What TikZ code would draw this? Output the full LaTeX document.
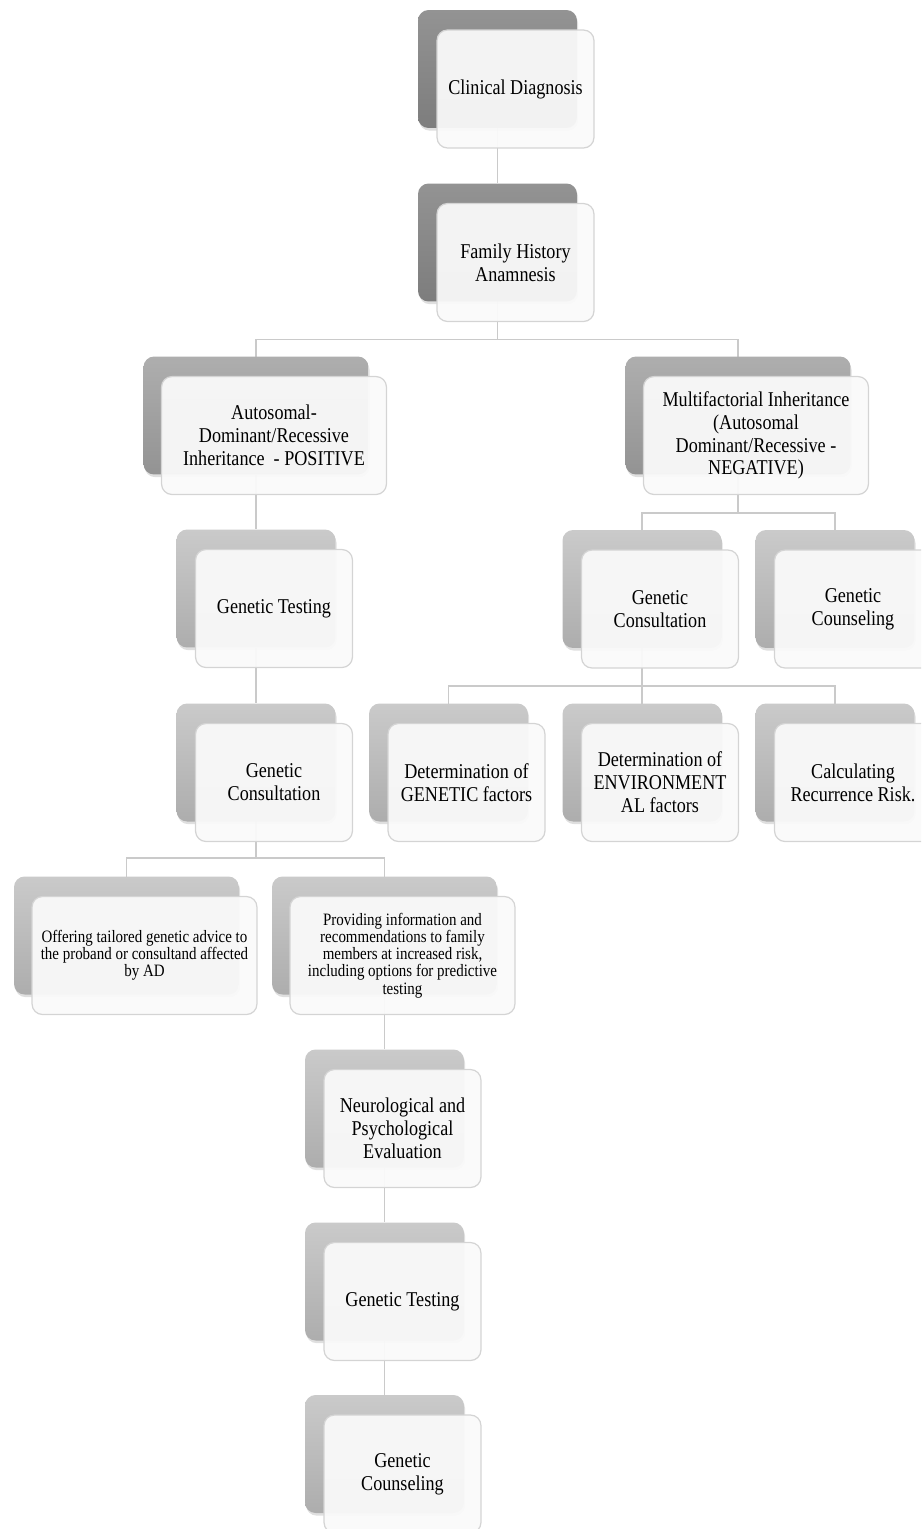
\documentclass[tikz,border=0pt]{standalone}
\usepackage{fontspec}
\setmainfont[FakeStretch=0.86]{Liberation Serif}
\usetikzlibrary{shadows,backgrounds}

\definecolor{shadeAtop}{HTML}{939393}
\definecolor{shadeAbot}{HTML}{7D7D7D}
\definecolor{shadeBtop}{HTML}{AEAEAE}
\definecolor{shadeBbot}{HTML}{939393}
\definecolor{shadeCtop}{HTML}{CACACA}
\definecolor{shadeCbot}{HTML}{ADADAD}
\definecolor{cardline}{HTML}{D4D4D4}
\definecolor{linkgray}{HTML}{CACACA}

\begin{document}
\begin{tikzpicture}[
  x=0.02cm, y=-0.02cm,
  back/.style={rounded corners=6pt, minimum width=3.18cm, minimum height=2.36cm,
               inner sep=0pt, drop shadow={shadow xshift=0.6pt, shadow yshift=-1.5pt, opacity=.25}},
  lvA/.style={back, top color=shadeAtop, bottom color=shadeAbot},
  lvB/.style={back, top color=shadeBtop, bottom color=shadeBbot},
  lvC/.style={back, top color=shadeCtop, bottom color=shadeCbot},
  wide/.style={minimum width=4.5cm},
  card/.style={draw=cardline, line width=0.7pt, rounded corners=6pt, fill=white!98!black,
               fill opacity=.94, text opacity=1, minimum width=3.14cm, minimum height=2.36cm,
               xshift=0.36cm, yshift=-0.4cm, align=center, inner sep=2pt,
               font=\fontsize{12}{13}\selectfont},
  small/.style={font=\fontsize{9.9}{9.8}\selectfont},
  link/.style={draw=linkgray, line width=1.1pt},
]
\clip (0,0) rectangle (921,1529);

% trunk
\node[lvA] (clinB) at (497.5,69) {};
\node[card] (clin) at (clinB) {Clinical Diagnosis};
\node[lvA] (famB) at (497.5,242.5) {};
\node[card] (fam) at (famB) {Family History\\Anamnesis};

% left branch
\node[lvB, wide] (autB) at (256,415.5) {};
\node[card, wide] (aut) at (autB) {Autosomal-\\Dominant/Recessive\\Inheritance \ - POSITIVE};
\node[lvC] (testB) at (256,588.5) {};
\node[card] (test) at (testB) {Genetic Testing};
\node[lvC] (consB) at (256,762.5) {};
\node[card] (cons) at (consB) {Genetic\\Consultation};
\node[lvC, wide] (offB) at (126.5,935.5) {};
\node[card, wide, small] (off) at (offB) {Offering tailored genetic advice to\\the proband or consultand affected\\by AD};
\node[lvC, wide] (provB) at (384.5,935.5) {};
\node[card, wide, small] (prov) at (provB) {Providing information and\\recommendations to family\\members at increased risk,\\including options for predictive\\testing};
\node[lvC] (neuroB) at (384.5,1108.5) {};
\node[card] (neuro) at (neuroB) {Neurological and\\Psychological\\Evaluation};
\node[lvC] (testbB) at (384.5,1281.5) {};
\node[card] (testb) at (testbB) {Genetic Testing};
\node[lvC] (counbB) at (384.5,1454) {};
\node[card] (counb) at (counbB) {Genetic\\Counseling};

% right branch
\node[lvB, wide] (mulB) at (738,415.5) {};
\node[card, wide] (mul) at (mulB) {Multifactorial Inheritance\\(Autosomal\\Dominant/Recessive -\\NEGATIVE)};
\node[lvC] (gconsB) at (642,589) {};
\node[card] (gcons) at (gconsB) {Genetic\\Consultation};
\node[lvC] (gcounB) at (835,589) {};
\node[card] (gcoun) at (gcounB) {Genetic\\Counseling};
\node[lvC] (detgB) at (448.5,762.5) {};
\node[card] (detg) at (detgB) {Determination of\\GENETIC factors};
\node[lvC] (deteB) at (642,762.5) {};
\node[card] (dete) at (deteB) {Determination of\\ENVIRONMENT\\AL factors};
\node[lvC] (calcB) at (835,762.5) {};
\node[card] (calc) at (calcB) {Calculating\\Recurrence Risk.};

\begin{scope}[on background layer]
\draw[link] (clinB) -- (famB);
\draw[link] (famB.center) -- ++(0,97) -| (autB.center);
\draw[link] (famB.center) -- ++(0,97) -| (mulB.center);
\draw[link] (autB) -- (testB);
\draw[link] (testB) -- (consB);
\draw[link] (consB.center) -- ++(0,95.5) -| (offB.center);
\draw[link] (consB.center) -- ++(0,95.5) -| (provB.center);
\draw[link] (provB) -- (neuroB);
\draw[link] (neuroB) -- (testbB);
\draw[link] (testbB) -- (counbB);
\draw[link] (mulB.center) -- ++(0,97.5) -| (gconsB.center);
\draw[link] (mulB.center) -- ++(0,97.5) -| (gcounB.center);
\draw[link] (gconsB.center) -- ++(0,97) -| (detgB.center);
\draw[link] (gconsB.center) -- (deteB.center);
\draw[link] (gconsB.center) -- ++(0,97) -| (calcB.center);
\end{scope}
\end{tikzpicture}
\end{document}
